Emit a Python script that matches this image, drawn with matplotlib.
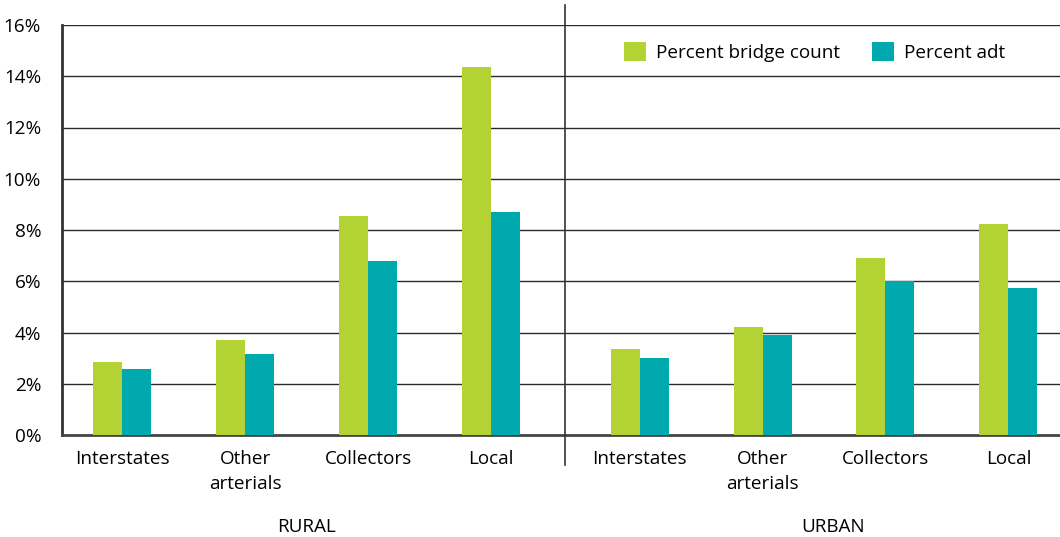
import matplotlib
matplotlib.use("Agg")
import matplotlib.pyplot as plt
import numpy as np

plt.rcParams['font.family'] = ['Open Sans', 'DejaVu Sans']

categories = ["Interstates", "Other\narterials", "Collectors", "Local"]
groups = ["RURAL", "URBAN"]
bridge_count = [2.85, 3.71, 8.55, 14.37, 3.36, 4.22, 6.91, 8.24]
adt = [2.58, 3.16, 6.80, 8.71, 3.00, 3.90, 6.00, 5.74]
yticks = [0, 2, 4, 6, 8, 10, 12, 14, 16]
ytick_labels = ["0%", "2%", "4%", "6%", "8%", "10%", "12%", "14%", "16%"]

green = "#B3D335"
teal = "#00A9AD"
fs = 13.6

fig = plt.figure(figsize=(10.6, 5.37), dpi=100)
ax = fig.add_axes([62/1060, 1-435/537, 1-62/1060, (435-25)/537])

x = np.array([0, 1, 2, 3, 4.21, 5.21, 6.21, 7.21])
w = 0.236
ax.bar(x - w/2, bridge_count, width=w, color=green, label="Percent bridge count", zorder=3)
ax.bar(x + w/2, adt, width=w, color=teal, label="Percent adt", zorder=3)

ax.set_xlim(-0.49, 7.63)
ax.set_ylim(0, 16)
ax.set_yticks(yticks)
ax.set_yticklabels(ytick_labels, fontsize=fs)
ax.tick_params(axis='y', length=0, pad=15)
ax.set_xticks(x)
ax.set_xticklabels(categories * 2, fontsize=fs, linespacing=1.45, va='top')
ax.tick_params(axis='x', length=0, pad=11)

for y in yticks[1:]:
    ax.axhline(y, color="#2b2b2b", lw=1.0, zorder=1)

for s in ['top', 'right']:
    ax.spines[s].set_visible(False)
ax.spines['left'].set_color("#333333")
ax.spines['left'].set_linewidth(2.0)
ax.spines['bottom'].set_color("#444444")
ax.spines['bottom'].set_linewidth(2.0)

# divider
ax.plot([3.6, 3.6], [-1.17, 16.78], color="#333333", lw=1.2, clip_on=False, zorder=4)

ax.text(1.5, -3.6, groups[0], ha='center', va='center', fontsize=fs)
ax.text(5.78, -3.6, groups[1], ha='center', va='center', fontsize=fs)

leg = ax.legend(loc='upper left', bbox_to_anchor=(0.546, 1.0), ncol=2, frameon=False,
                fontsize=fs, handlelength=1.15, handleheight=1.15, columnspacing=1.7,
                handletextpad=0.55)

fig.savefig("out.png", dpi=100)
